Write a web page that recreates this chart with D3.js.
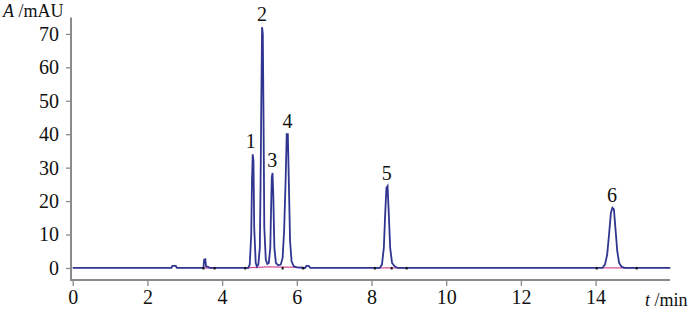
<!DOCTYPE html>
<html>
<head>
<meta charset="utf-8">
<script src="https://cdn.jsdelivr.net/npm/d3@7"></script>
<style>
  body { margin: 0; background: #fff; }
  svg text { font-family: 'Liberation Serif', 'Times New Roman', serif; fill: #111; }
</style>
</head>
<body>
<svg id="chart" width="700" height="309"></svg>
<script>
// retention time (min) and absorbance (mAU)
const traceTime = [
  0, 2.64, 2.67, 2.76, 2.79, 3.50, 3.52, 3.55, 3.57, 3.62, 3.68,
  4.70, 4.74, 4.78, 4.80, 4.82, 4.84, 4.86, 4.90, 4.93,
  4.97, 5.01, 5.03, 5.05, 5.07, 5.09, 5.11, 5.13, 5.17, 5.21,
  5.25, 5.29, 5.31, 5.33, 5.35, 5.37, 5.40, 5.44, 5.50,
  5.57, 5.62, 5.66, 5.70, 5.73, 5.76, 5.79, 5.82, 5.86, 5.92, 6.00,
  6.22, 6.26, 6.32, 6.36,
  8.22, 8.28, 8.33, 8.37, 8.40, 8.43, 8.46, 8.50, 8.55, 8.62, 8.70,
  14.18, 14.25, 14.31, 14.36, 14.41, 14.45, 14.49, 14.53, 14.58, 14.63, 14.70, 14.78,
  16
];
const traceValue = [
  0, 0, 0.6, 0.6, 0, 0, 2.5, 2.6, 0.5, 0.3, 0,
  0, 1, 10, 26, 34, 32, 12, 1.5, 0.4,
  1, 6, 25, 50, 72, 70, 44, 12, 2.5, 1.2,
  1.5, 6, 17, 27, 28.4, 22, 6, 1.5, 0.8,
  1, 3, 11, 26, 40, 40, 24, 8, 2, 0.5, 0.2,
  0, 0.6, 0.6, 0,
  0, 1, 6, 17, 24, 24.5, 17, 6, 1.5, 0.5, 0,
  0, 1, 4, 10, 16.5, 18, 17.5, 12, 5, 1.5, 0.3, 0,
  0
];

// integration baselines [start, end] in min
const baseSegments = [[3.52, 3.78], [4.62, 5.20], [5.20, 6.17], [8.09, 8.94], [14.16, 15.10]];
const baseLevels = [[0, 0], [0, 0.3], [0.3, 0.2], [0, 0], [0, 0]];
const markerTimes = [3.50, 3.80, 4.62, 5.62, 6.17, 8.09, 8.54, 8.94, 14.03, 15.10];

// peak labels
const peakNames = ["1", "2", "3", "4", "5", "6"];
const peakTimes = [4.77, 5.07, 5.34, 5.75, 8.41, 14.44];
const peakTops = [34, 72, 28.4, 40, 24.5, 18];

const xTicks = [0, 2, 4, 6, 8, 10, 12, 14];
const yTicks = [0, 10, 20, 30, 40, 50, 60, 70];

const svg = d3.select("#chart");

const x = d3.scaleLinear().domain([0, 16]).range([72.7, 670.3]);
const y = d3.scaleLinear().domain([-3.6, 74.9]).range([280, 17.5]);

const axisColor = "#8a8a8a";
const font = "'Liberation Serif', 'Times New Roman', serif";

// axes
const yAxis = svg.append("g")
  .attr("transform", "translate(71,0)")
  .call(d3.axisLeft(y).tickValues(yTicks).tickSize(5).tickPadding(7).tickSizeOuter(0));
const xAxis = svg.append("g")
  .attr("transform", "translate(0,280)")
  .call(d3.axisBottom(x).tickValues(xTicks).tickSize(6).tickPadding(4).tickSizeOuter(0));

[yAxis, xAxis].forEach(a => {
  a.attr("font-family", font);
  a.select(".domain").remove();
  a.selectAll(".tick line").attr("stroke", axisColor).attr("stroke-width", 1.3);
  a.selectAll(".tick text")
    .attr("font-size", 20)
    .attr("fill", "#111");
});

svg.append("line")
  .attr("x1", 71).attr("x2", 71).attr("y1", 17.5).attr("y2", 281)
  .attr("stroke", axisColor).attr("stroke-width", 2);
svg.append("line")
  .attr("x1", 70).attr("x2", 670).attr("y1", 280).attr("y2", 280)
  .attr("stroke", axisColor).attr("stroke-width", 2);

// axis titles
const yTitle = svg.append("text").attr("x", 3).attr("y", 17).attr("font-size", 18);
yTitle.append("tspan").attr("font-style", "italic").text("A");
yTitle.append("tspan").text(" /mAU");

const xTitle = svg.append("text").attr("x", 645).attr("y", 306).attr("font-size", 18);
xTitle.append("tspan").attr("font-style", "italic").text("t");
xTitle.append("tspan").text(" /min");

// integration baselines
svg.append("g").selectAll("line")
  .data(baseSegments)
  .join("line")
  .attr("x1", d => x(d[0]))
  .attr("x2", d => x(d[1]))
  .attr("y1", (d, i) => y(baseLevels[i][0]))
  .attr("y2", (d, i) => y(baseLevels[i][1]))
  .attr("stroke", "#d4529a")
  .attr("stroke-width", 1.3);

// trace
const points = traceTime.map((t, i) => [t, traceValue[i]]);
svg.append("path")
  .datum(points)
  .attr("fill", "none")
  .attr("stroke", "#2f3590")
  .attr("stroke-width", 1.8)
  .attr("stroke-linejoin", "miter")
  .attr("d", d3.line().x(d => x(d[0])).y(d => y(d[1])));

// peak start/end markers
svg.append("g").selectAll("rect")
  .data(markerTimes)
  .join("rect")
  .attr("x", d => x(d) - 1)
  .attr("y", y(0) - 1)
  .attr("width", 2)
  .attr("height", 2.5)
  .attr("fill", "#111");

// peak numbers
svg.append("g").selectAll("text")
  .data(peakNames)
  .join("text")
  .attr("x", (d, i) => x(peakTimes[i]))
  .attr("y", (d, i) => y(peakTops[i]) - 6)
  .attr("text-anchor", "middle")
  .attr("font-size", 20)
  .text(d => d);
</script>
</body>
</html>
